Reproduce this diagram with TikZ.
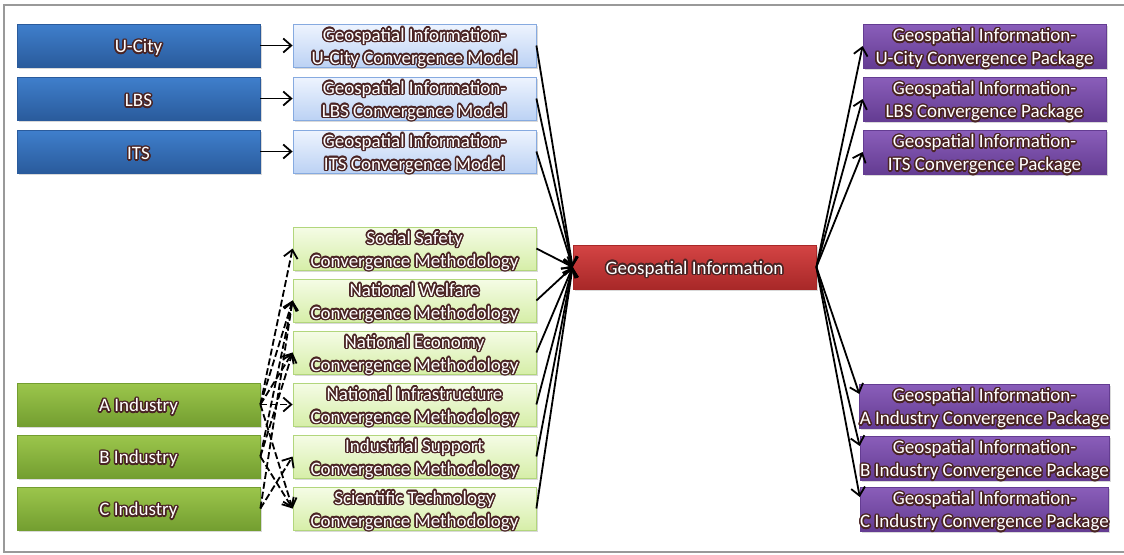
\documentclass[tikz,border=0pt]{standalone}
\usepackage{fontspec}
\setmainfont{Carlito}
\usepackage{contour}
\usetikzlibrary{shadows,arrows.meta}
\contourlength{0.75pt}
\definecolor{txtedge}{HTML}{4A2424}
\definecolor{cityTop}{HTML}{3F7FCC}
\definecolor{cityBot}{HTML}{2A5B9C}
\definecolor{modelTop}{HTML}{EEF4FE}
\definecolor{modelBot}{HTML}{BCD2F4}
\definecolor{modelLine}{HTML}{86AAE0}
\definecolor{methTop}{HTML}{F5FCE6}
\definecolor{methBot}{HTML}{D6EEA8}
\definecolor{methLine}{HTML}{B2D67C}
\definecolor{indTop}{HTML}{9CC64C}
\definecolor{indBot}{HTML}{739E30}
\definecolor{coreTop}{HTML}{D44444}
\definecolor{coreBot}{HTML}{A82828}
\definecolor{packTop}{HTML}{8A5EBA}
\definecolor{packBot}{HTML}{643C92}
\newcommand{\olt}[1]{\raisebox{-1.5pt}[\height][\depth]{\contour{txtedge}{#1}}}
\tikzset{
  box/.style={rectangle, minimum width=121.5pt, minimum height=21.5pt, inner sep=0pt,
    align=center, text=white, font=\fontsize{9.5}{11.5}\selectfont,
    drop shadow={shadow xshift=0.8pt, shadow yshift=-0.8pt, opacity=0.3}},
  city/.style={box, top color=cityTop, bottom color=cityBot, draw=cityBot},
  model/.style={box, top color=modelTop, bottom color=modelBot, draw=modelLine},
  method/.style={box, top color=methTop, bottom color=methBot, draw=methLine},
  industry/.style={box, top color=indTop, bottom color=indBot, draw=indBot},
  core/.style={box, minimum height=22pt, top color=coreTop, bottom color=coreBot, draw=coreBot},
  pack/.style={box, minimum height=22pt, top color=packTop, bottom color=packBot, draw=packBot},
  link/.style={line width=0.9pt, -{Straight Barb[length=4pt,width=7pt]}},
  maybe/.style={link, dash pattern=on 3.5pt off 1.5pt}
}
\begin{document}
\begin{tikzpicture}[x=0.5pt, y=-0.5pt]
\useasboundingbox (0,0) rectangle (1124,554);
\draw[gray!80, line width=0.6pt] (1124,5) -- (4,5) -- (4,552) -- (1124,552);
% source fields
\node[city] at (138.5,45.5)  (UC) {\olt{U-City}};
\node[city] at (138.5,98.5)  (LB) {\olt{LBS}};
\node[city] at (138.5,151.5) (IT) {\olt{ITS}};
\node[model] at (414.5,45.5)  (M1) {\olt{Geospatial Information-}\\\olt{U-City Convergence Model}};
\node[model] at (414.5,98.5)  (M2) {\olt{Geospatial Information-}\\\olt{LBS Convergence Model}};
\node[model] at (414.5,151.5) (M3) {\olt{Geospatial Information-}\\\olt{ITS Convergence Model}};
% methodologies
\node[method] at (414.5,248.5) (S1) {\olt{Social Safety}\\\olt{Convergence Methodology}};
\node[method] at (414.5,300.5) (S2) {\olt{National Welfare}\\\olt{Convergence Methodology}};
\node[method] at (414.5,352.5) (S3) {\olt{National Economy}\\\olt{Convergence Methodology}};
\node[method] at (414.5,404.5) (S4) {\olt{National Infrastructure}\\\olt{Convergence Methodology}};
\node[method] at (414.5,456.5) (S5) {\olt{Industrial Support}\\\olt{Convergence Methodology}};
\node[method] at (414.5,508.5) (S6) {\olt{Scientific Technology}\\\olt{Convergence Methodology}};
\node[industry] at (138.5,404.5) (IA) {\olt{A Industry}};
\node[industry] at (138.5,456.5) (IB) {\olt{B Industry}};
\node[industry] at (138.5,508.5) (IC) {\olt{C Industry}};
% core
\node[core] at (694.5,267) (G) {\olt{Geospatial Information}};
% packages
\node[pack] at (984.5,46)  (P1) {\olt{Geospatial Information-}\\\olt{U-City Convergence Package}};
\node[pack] at (984.5,99)  (P2) {\olt{Geospatial Information-}\\\olt{LBS Convergence Package}};
\node[pack] at (984.5,152) (P3) {\olt{Geospatial Information-}\\\olt{ITS Convergence Package}};
\node[pack] at (984.5,406) (P4) {\olt{Geospatial Information-}\\\olt{A Industry Convergence Package}};
\node[pack] at (984.5,458) (P5) {\olt{Geospatial Information-}\\\olt{B Industry Convergence Package}};
\node[pack] at (984.5,509) (P6) {\olt{Geospatial Information-}\\\olt{C Industry Convergence Package}};
\draw[link] (UC) -- (M1);
\draw[link] (LB) -- (M2);
\draw[link] (IT) -- (M3);
\foreach \m in {M1,M2,M3,S1,S2,S3,S4,S5,S6}
  \draw[link] (\m.east) -- (G.west);
\foreach \p in {P1,P2,P3}
  \draw[link] (G.east) -- (\p.west);
\foreach \p in {P4,P5,P6}
  \draw[link] (G.east) -- ([yshift=6pt]\p.west);
\foreach \s in {S1,S2,S3,S4,S6}
  \draw[maybe] (IA.east) -- (\s.west);
\foreach \s in {S2,S3,S6}
  \draw[maybe] (IB.east) -- (\s.west);
\foreach \s in {S2,S5}
  \draw[maybe] (IC.east) -- (\s.west);
\end{tikzpicture}
\end{document}
